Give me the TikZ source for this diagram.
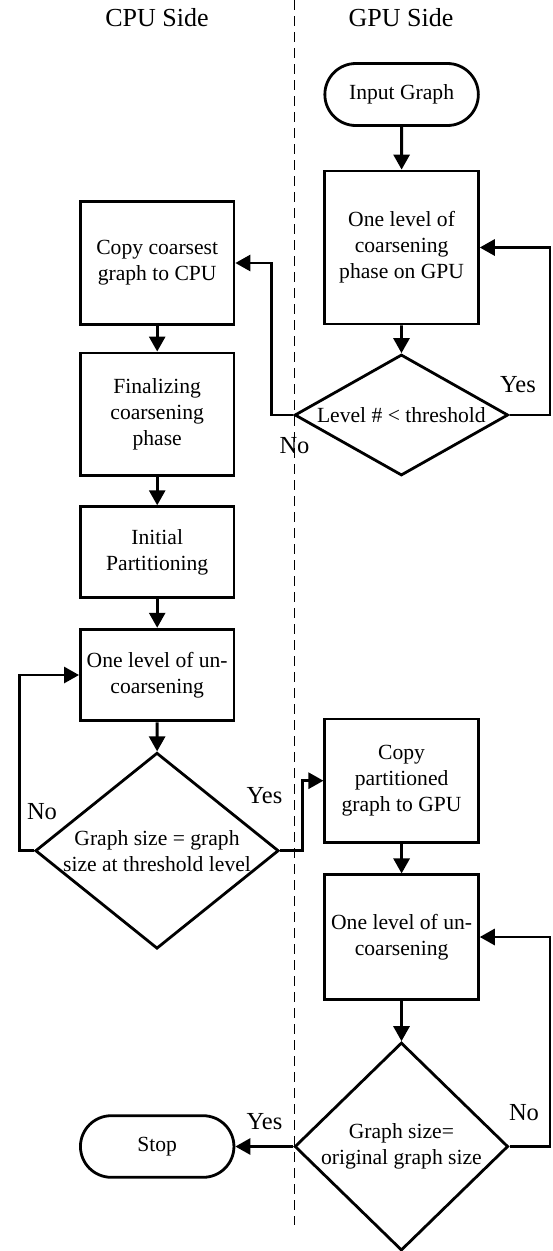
\documentclass[tikz,border=0pt]{standalone}
\usepackage{fontspec}
\setmainfont{Liberation Serif}
\usetikzlibrary{arrows.meta,shapes.geometric,shapes.misc}
\begin{document}
\begin{tikzpicture}[x=1pt,y=-1pt,
  every node/.style={font=\fontsize{21.6}{26}\selectfont},
  box/.style={draw, line width=2.8pt, rectangle, minimum width=153.5pt, inner sep=0pt, align=center},
  pill/.style={draw, line width=2.8pt, rounded rectangle, minimum width=153.5pt, inner sep=0pt},
  dec/.style={draw, line width=2.8pt, diamond, inner sep=0pt, align=center},
  arr/.style={line width=2.8pt, -{Triangle[length=15pt,width=16pt]}},
  lbl/.style={font=\fontsize{24.5}{28}\selectfont},
  head/.style={font=\fontsize{26}{30}\selectfont},
  divider/.style={line width=1.8pt, dash pattern=on 10pt off 6pt}]
\useasboundingbox (0,0) rectangle (553,1251);

% headings
\node[head] (cpuside) at (157,18) {CPU Side};
\node[head] (gpuside) at (401,18) {GPU Side};

% divider
\coordinate (dtop) at (294.5,0);
\coordinate (dbot) at (294.5,1225);
\draw[divider] (dtop) -- (dbot);

% GPU side, coarsening
\node[pill, minimum height=62pt] (input) at (401.6,94.5) {Input Graph};
\node[box, minimum height=153pt] (gcoarse) at (401.6,247.5) {One level of\\coarsening\\phase on GPU};
\node[dec, minimum width=213.5pt, minimum height=121pt, shape aspect=1.76] (cond1) at (401.4,415) {Level \# < threshold};

% CPU side
\node[box, minimum height=122.3pt] (copyc) at (157.2,263) {Copy coarsest\\graph to CPU};
\node[box, minimum height=122.7pt] (final) at (157.2,414.3) {Finalizing\\coarsening\\phase};
\node[box, minimum height=91pt] (init) at (157.2,552.2) {Initial\\Partitioning};
\node[box, minimum height=91.7pt] (cpuun) at (157.2,675) {One level of un-\\coarsening};
\node[dec, minimum width=243.4pt, minimum height=196pt, shape aspect=1.24] (cond2) at (157,850.7) {Graph size = graph\\size at threshold level};
\node[pill, minimum height=61.6pt] (stop) at (157.2,1146.5) {Stop};

% GPU side, uncoarsening
\node[box, minimum height=123.3pt] (copyp) at (401.6,780.7) {Copy\\partitioned\\graph to GPU};
\node[box, minimum height=124.3pt] (gpuun) at (401.6,937) {One level of un-\\coarsening};
\node[dec, minimum width=213.5pt, minimum height=208pt, shape aspect=1.01] (cond3) at (401.4,1146.5) {Graph size=\\original graph size};

% loop columns
\coordinate (rx) at (550,0);
\coordinate (nx) at (271.6,0);
\coordinate (lx) at (19.4,0);
\coordinate (yx) at (302.3,0);

% connectors
\draw[arr] (input) -- (gcoarse);
\draw[arr] (gcoarse) -- (cond1);
\draw[arr] (cond1.east) -- (cond1.east -| rx) |- (gcoarse.east);
\draw[arr] (cond1.west) -- (cond1.west -| nx) |- (copyc.east);
\draw[arr] (copyc) -- (final);
\draw[arr] (final) -- (init);
\draw[arr] (init) -- (cpuun);
\draw[arr] (cpuun) -- (cond2);
\draw[arr] (cond2.west) -- (cond2.west -| lx) |- (cpuun.west);
\draw[arr] (cond2.east) -- (cond2.east -| yx) |- (copyp.west);
\draw[arr] (copyp) -- (gpuun);
\draw[arr] (gpuun) -- (cond3);
\draw[arr] (cond3.east) -- (cond3.east -| rx) |- (gpuun.east);
\draw[arr] (cond3.west) -- (stop.east);

% labels
\node[lbl] (yes1) at (518,385) {Yes};
\node[lbl] (no1) at (294.5,446) {No};
\node[lbl] (no2) at (42,812) {No};
\node[lbl] (yes2) at (264.5,796) {Yes};
\node[lbl] (no3) at (524,1113) {No};
\node[lbl] (yes3) at (264.5,1122) {Yes};
\end{tikzpicture}
\end{document}
